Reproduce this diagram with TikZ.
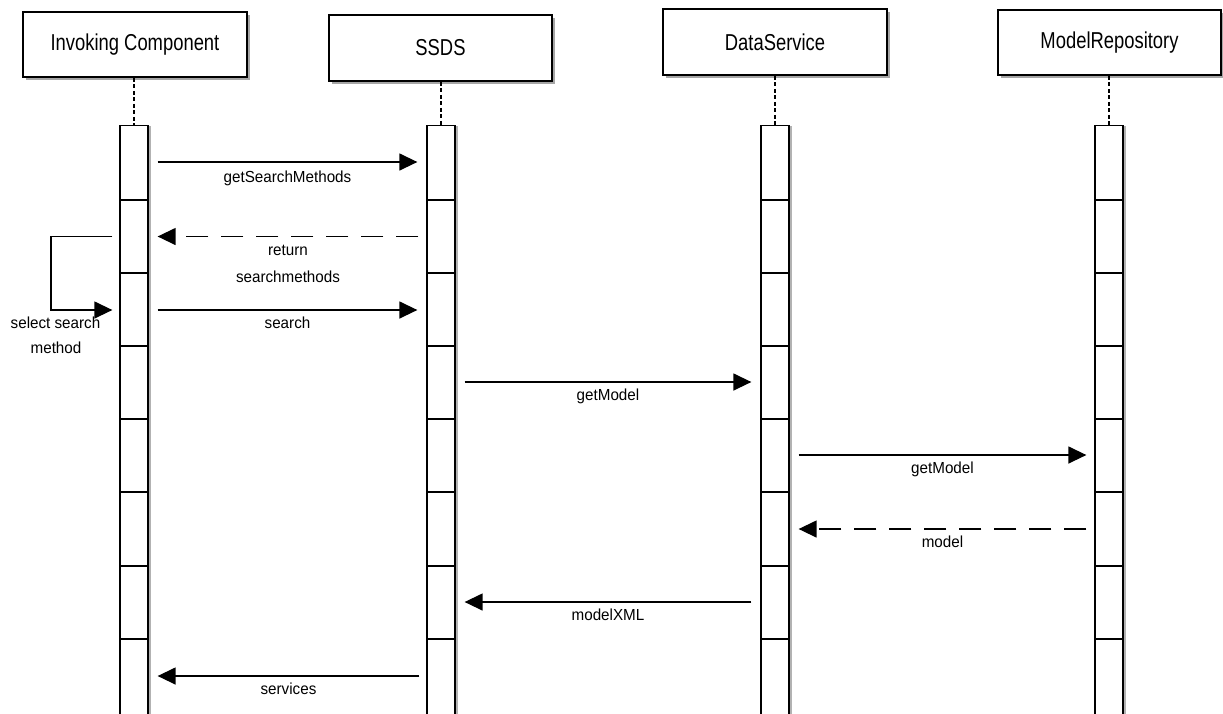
\documentclass[tikz,border=0pt]{standalone}
\usepackage{fontspec}
\setmainfont{Liberation Sans}
\newfontfamily\headfont[FakeStretch=0.8]{Liberation Sans}
\newfontfamily\msgfont[FakeStretch=0.95]{Liberation Sans}
\usetikzlibrary{arrows.meta,calc,shadows}

\tikzset{
  headbox/.style={draw, line width=1.5pt, fill=white, inner sep=0pt,
    minimum width=224pt, minimum height=65pt,
    font=\headfont\fontsize{23}{27}\selectfont,
    drop shadow={shadow xshift=2.5pt, shadow yshift=-2.5pt, fill=black!35, opacity=1}},
  actbar/.style={draw, line width=1.3pt, fill=white, inner sep=0pt, anchor=north,
    minimum width=28pt, minimum height=600pt,
    drop shadow={shadow xshift=2.5pt, shadow yshift=0pt, fill=black!30, opacity=1}},
  lifeline/.style={line width=2pt, dash pattern=on 4pt off 2.5pt},
  segline/.style={line width=1.2pt},
  msg/.style={line width=1.4pt, -{Triangle[length=18pt,width=17pt]}},
  reply/.style={msg, dash pattern=on 22pt off 13pt},
  lbl/.style={font=\msgfont\fontsize{16}{19}\selectfont, anchor=base, yshift=-20pt, inner sep=0pt},
  note/.style={font=\msgfont\fontsize{16}{19}\selectfont, anchor=base, inner sep=0pt}
}

\begin{document}
\begin{tikzpicture}[x=1pt,y=-1pt]
\clip (0,0) rectangle (1223,713);
\fill[white] (0,0) rectangle (1223,713);

% participants
\node[headbox] (ic) at (135,44.5) {Invoking Component};
\node[headbox, minimum width=223pt, minimum height=66pt] (ss) at (440.5,48) {SSDS};
\node[headbox, minimum height=66pt] (ds) at (775,42) {DataService};
\node[headbox, minimum width=223pt] (mr) at (1109.5,42.5) {ModelRepository};

% activation bars
\node[actbar] (icbar) at (134,125) {};
\node[actbar] (ssbar) at (441,125) {};
\node[actbar] (dsbar) at (775,125) {};
\node[actbar] (mrbar) at (1109,125) {};

% lifelines, from each participant down to its bar
\draw[lifeline] (icbar.north |- ic.south) -- (icbar.north);
\draw[lifeline] (ssbar.north |- ss.south) -- (ssbar.north);
\draw[lifeline] (dsbar.north |- ds.south) -- (dsbar.north);
\draw[lifeline] (mrbar.north |- mr.south) -- (mrbar.north);

% bar segments
\foreach \b in {icbar,ssbar,dsbar,mrbar}{
  \foreach \y in {200,273,346,419,492,566,639}{
    \draw[segline] (\b.west |- 0,\y) -- (\b.east |- 0,\y);
  }
}

% message levels
\coordinate (y1) at (0,162);
\coordinate (y2) at (0,236.5);
\coordinate (y3) at (0,310);
\coordinate (y4) at (0,382);
\coordinate (y5) at (0,455);
\coordinate (y6) at (0,529);
\coordinate (y7) at (0,602);
\coordinate (y8) at (0,676);

% messages
\draw[msg] ([xshift=9pt]icbar.east |- y1) -- node[lbl]{getSearchMethods} ([xshift=-9pt]ssbar.west |- y1);
\draw[reply] ([xshift=-8pt]ssbar.west |- y2) -- node[lbl, yshift=1.5pt]{return} node[lbl, yshift=-25.5pt]{searchmethods} ([xshift=9pt]icbar.east |- y2);
\draw[msg] ([xshift=9pt]icbar.east |- y3) -- node[lbl, yshift=2pt]{search} ([xshift=-9pt]ssbar.west |- y3);
\draw[msg] ([xshift=9pt]ssbar.east |- y4) -- node[lbl, yshift=2pt]{getModel} ([xshift=-9pt]dsbar.west |- y4);
\draw[msg] ([xshift=9pt]dsbar.east |- y5) -- node[lbl, yshift=2pt]{getModel} ([xshift=-8pt]mrbar.west |- y5);
\draw[reply] ([xshift=-8pt]mrbar.west |- y6) -- node[lbl, yshift=2pt]{model} ([xshift=9pt]dsbar.east |- y6);
\draw[msg] ([xshift=-9pt]dsbar.west |- y7) -- node[lbl, yshift=2pt]{modelXML} ([xshift=9pt]ssbar.east |- y7);
\draw[msg] ([xshift=-7pt]ssbar.west |- y8) -- node[lbl, yshift=2pt]{services} ([xshift=9pt]icbar.east |- y8);

% self call on the invoking component
\coordinate (loopl) at (51,0);
\draw[msg] ([xshift=-7pt]icbar.west |- y2) -- (loopl |- y2) -- (loopl |- y3) -- ([xshift=-7pt]icbar.west |- y3);
\node[note] (sel1) at (55.5,328) {select search};
\node[note] (sel2) at (56,353) {method};
\end{tikzpicture}
\end{document}
